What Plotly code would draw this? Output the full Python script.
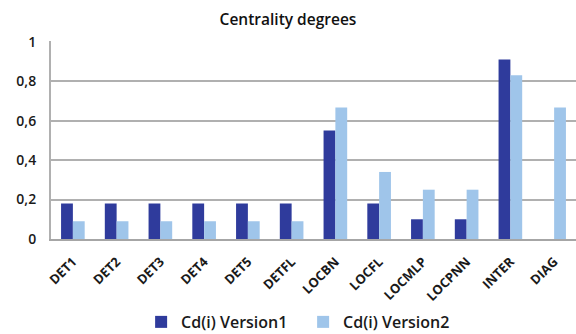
import plotly.graph_objects as go

categories = ["DET1", "DET2", "DET3", "DET4", "DET5", "DETFL",
              "LOCBN", "LOCFL", "LOCMLP", "LOCPNN", "INTER", "DIAG"]
version1 = [0.18, 0.18, 0.18, 0.18, 0.18, 0.18, 0.55, 0.18, 0.10, 0.10, 0.91, 0.0]
version2 = [0.09, 0.09, 0.09, 0.09, 0.09, 0.09, 0.667, 0.34, 0.25, 0.25, 0.83, 0.667]
y_ticks = [0, 0.2, 0.4, 0.6, 0.8, 1]
y_tick_labels = ["0", "0,2", "0,4", "0,6", "0,8", "1"]

font_family = "'Open Sans', Lato, sans-serif"

fig = go.Figure()
fig.add_trace(go.Bar(x=categories, y=version1, name="Cd(i) Version1",
                     marker=dict(color="#2f3b9c", line=dict(width=0))))
fig.add_trace(go.Bar(x=categories, y=version2, name="Cd(i) Version2",
                     marker=dict(color="#9fc5ea", line=dict(width=0))))

fig.update_layout(
    width=576, height=334,
    margin=dict(l=51, r=0, t=41, b=95),
    paper_bgcolor="white", plot_bgcolor="white",
    barmode="group", bargap=0.46, bargroupgap=0,
    font=dict(family=font_family, color="#1a1a1a"),
    title=dict(text="Centrality degrees", x=0.5, xanchor="center",
               y=0.94, yanchor="middle",
               font=dict(size=15.5, color="#111111", weight=600)),
    showlegend=True,
    legend=dict(orientation="h", xref="container", yref="container",
                x=0.245, xanchor="left", y=0.036, yanchor="middle",
                font=dict(size=16, color="#1a1a1a", weight=600), itemwidth=30,
                traceorder="normal", entrywidth=117),
    xaxis=dict(range=[-0.5, 11.5], tickangle=-45,
               tickfont=dict(size=13, color="#1a1a1a", weight=700),
               showline=True, linecolor="#a6a6a6", linewidth=2, ticks="",
               ticklabelstandoff=8, showgrid=False, automargin=False),
    yaxis=dict(range=[0, 1.004], tickvals=y_ticks, ticktext=y_tick_labels,
               tickfont=dict(size=14, color="#1a1a1a", weight=600),
               showgrid=True, gridcolor="#b0b0b0", gridwidth=2,
               showline=True, linecolor="#b0b0b0", linewidth=2,
               zeroline=False, ticks="", ticklabelstandoff=10, automargin=False),
)

fig.write_html("out.html")
